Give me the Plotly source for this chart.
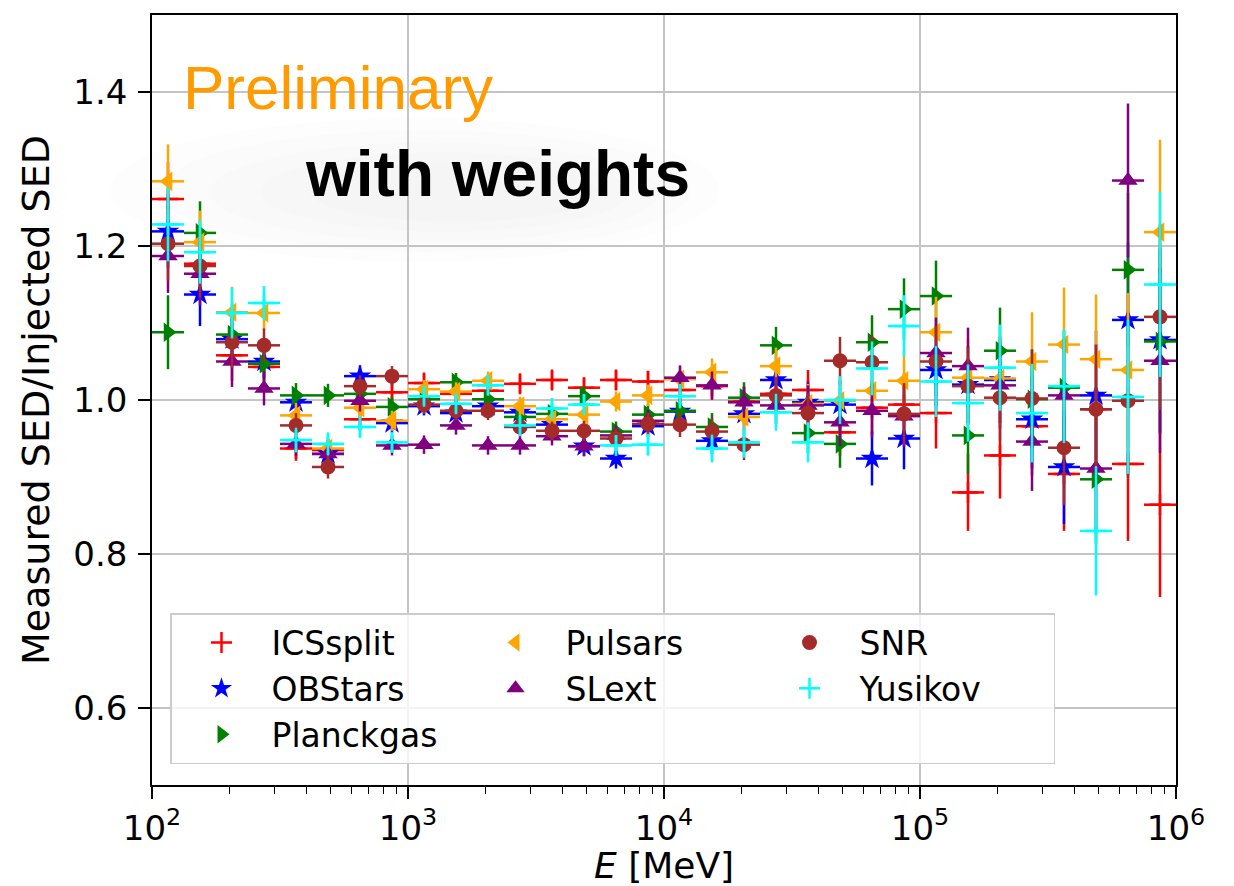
import numpy as np
import plotly.graph_objects as go

# Energy binning: 8 logarithmic bins per decade from 100 MeV to 1 TeV
LOG_E_MIN = 2.0
BINS_PER_DECADE = 8
N_BINS = 32
edges = 10 ** (LOG_E_MIN + np.arange(N_BINS + 1) / BINS_PER_DECADE)
e_lo, e_hi = edges[:-1], edges[1:]
e_c = np.sqrt(e_lo * e_hi)

# Measured / injected SED ratio per template
ICSsplit = [1.261, 1.177, 1.058, 1.043, 0.937, 0.935, 0.975, 1.010, 1.022, 1.008,
            1.012, 1.021, 1.026, 1.016, 1.026, 1.024, 1.013, 1.018, 0.998, 1.008,
            1.013, 0.958, 0.990, 0.994, 0.983, 0.880, 0.928, 0.966, 0.904, 0.988,
            0.917, 0.864]
OBStars = [1.219, 1.137, 1.079, 1.050, 0.997, 0.930, 1.031, 0.970, 0.992, 0.983,
           0.992, 0.984, 0.968, 0.940, 0.924, 0.966, 0.985, 0.947, 0.982, 1.026,
           0.997, 0.994, 0.924, 0.950, 1.039, 1.020, 1.026, 0.975, 0.913, 1.006,
           1.104, 1.078]
Planckgas = [1.088, 1.217, 1.085, 1.047, 1.006, 1.006, 1.008, 0.991, 1.001, 1.023,
             1.001, 0.978, 0.982, 1.005, 0.959, 0.981, 0.986, 0.965, 1.003, 1.071,
             0.957, 0.943, 1.075, 1.118, 1.135, 0.954, 1.064, 1.001, 1.016, 0.897,
             1.169, 1.076]
Pulsars = [1.284, 1.205, 1.114, 1.113, 0.980, 0.937, 0.990, 0.973, 1.014, 1.011,
           1.025, 0.992, 0.975, 0.981, 0.998, 1.006, 1.027, 1.036, 0.978, 1.044,
           0.995, 0.999, 1.012, 1.025, 1.088, 1.029, 1.028, 1.050, 1.072, 1.053,
           1.039, 1.218]
SLext = [1.187, 1.164, 1.050, 1.015, 0.943, 0.930, 0.999, 0.941, 0.942, 0.967,
         0.941, 0.941, 0.953, 0.940, 0.954, 0.973, 1.029, 1.019, 0.997, 0.993,
         0.993, 0.971, 0.986, 0.979, 1.061, 1.044, 1.019, 0.946, 1.006, 0.911,
         1.285, 1.051]
SNR = [1.203, 1.174, 1.075, 1.071, 0.967, 0.913, 1.018, 1.031, 0.994, 0.986,
       0.986, 0.965, 0.960, 0.960, 0.950, 0.969, 0.968, 0.959, 0.942, 1.006,
       0.983, 1.051, 1.049, 0.982, 1.050, 1.018, 1.003, 1.002, 0.938, 0.988,
       0.999, 1.108]
Yusikov = [1.228, 1.192, 1.113, 1.126, 0.948, 0.943, 0.965, 0.945, 1.005, 0.995,
           1.019, 0.967, 0.989, 0.994, 0.941, 0.942, 1.005, 0.937, 0.945, 0.984,
           0.945, 1.000, 1.041, 1.096, 1.024, 0.996, 1.042, 0.983, 1.018, 0.830,
           1.004, 1.150]

# 1-sigma uncertainty on the ratio in each energy bin
ratio_err = [0.048, 0.041, 0.033, 0.022, 0.016, 0.015, 0.014, 0.013, 0.012, 0.012,
             0.012, 0.012, 0.012, 0.013, 0.013, 0.014, 0.016, 0.018, 0.020, 0.024,
             0.026, 0.031, 0.035, 0.040, 0.046, 0.050, 0.056, 0.064, 0.074, 0.084,
             0.100, 0.120]

series = [
    # name, values, colour, symbol, size, legend rank
    ("ICSsplit", ICSsplit, "#ff0000", "cross-thin", 15, 1),
    ("OBStars", OBStars, "#0000ff", "star", 17, 4),
    ("Planckgas", Planckgas, "#008000", "triangle-right", 17, 7),
    ("Pulsars", Pulsars, "#ffa500", "triangle-left", 17, 2),
    ("SLext", SLext, "#800080", "triangle-up", 17, 5),
    ("SNR", SNR, "#a52a2a", "circle", 15, 3),
    ("Yusikov", Yusikov, "#00ffff", "cross-thin", 15, 6),
]

fig = go.Figure()
for name, vals, col, sym, size, rank in series:
    thin = sym == "cross-thin"
    fig.add_trace(go.Scatter(
        x=e_c, y=vals, name=name, mode="markers", legendrank=rank,
        marker=dict(symbol=sym, size=size, color=col,
                    line=dict(color=col, width=2.5 if thin else 0)),
        error_x=dict(type="data", symmetric=False, array=e_hi - e_c,
                     arrayminus=e_c - e_lo, color=col, thickness=2.5, width=0),
        error_y=dict(type="data", array=ratio_err, color=col, thickness=2.5, width=0),
    ))

# soft grey haze behind the "with weights" label
haze = [(110, 720, 118, 262), (160, 690, 130, 252), (210, 660, 142, 242),
        (260, 630, 152, 232), (310, 600, 162, 222)]
W, H = 1234, 886
for x0, x1, y0, y1 in haze:
    fig.add_shape(type="circle", xref="paper", yref="paper", layer="below",
                  x0=(x0 - 152) / 1024, x1=(x1 - 152) / 1024,
                  y0=(785 - y1) / 770, y1=(785 - y0) / 770,
                  fillcolor="rgba(0,0,0,0.009)", line=dict(width=0))

fig.add_annotation(text="Preliminary", xref="paper", yref="paper",
                   x=(181 - 152) / 1024, y=(785 - 87) / 770,
                   xanchor="left", yanchor="middle", showarrow=False,
                   font=dict(family="Liberation Sans", size=62, color="#ff9a00"))
fig.add_annotation(text="<b>with weights</b>", xref="paper", yref="paper",
                   x=(303 - 152) / 1024, y=(785 - 174) / 770,
                   xanchor="left", yanchor="middle", showarrow=False,
                   font=dict(family="Liberation Sans", size=64, color="black"))

tick_font = dict(family="DejaVu Sans", size=34, color="black")
fig.update_xaxes(
    type="log", range=[2, 6],
    tickvals=[1e2, 1e3, 1e4, 1e5, 1e6],
    ticktext=["10<sup>2</sup>", "10<sup>3</sup>", "10<sup>4</sup>",
              "10<sup>5</sup>", "10<sup>6</sup>"],
    ticks="outside", ticklen=12, tickwidth=1.5, tickcolor="black",
    minor=dict(ticks="outside", ticklen=7, tickwidth=1.2, tickcolor="black",
               dtick="D1", showgrid=False),
    showline=True, mirror=True, linecolor="black", linewidth=1.5,
    showgrid=True, gridcolor="#c4c4c4", gridwidth=1.5, zeroline=False,
    tickfont=tick_font,
    title=dict(text="<i>E</i> [MeV]", font=dict(family="DejaVu Sans", size=36,
                                                color="black"), standoff=6),
)
fig.update_yaxes(
    range=[0.5, 1.5], tickvals=[0.6, 0.8, 1.0, 1.2, 1.4], tickformat=".1f",
    ticks="outside", ticklen=12, tickwidth=1.5, tickcolor="black",
    ticklabelstandoff=4,
    showline=True, mirror=True, linecolor="black", linewidth=1.5,
    showgrid=True, gridcolor="#c4c4c4", gridwidth=1.5, zeroline=False,
    tickfont=tick_font,
    title=dict(text="Measured SED/Injected SED",
               font=dict(family="DejaVu Sans", size=38, color="black"), standoff=12),
)

fig.update_layout(
    width=W, height=H,
    margin=dict(l=152, r=58, t=15, b=101, autoexpand=False),
    paper_bgcolor="white", plot_bgcolor="rgba(0,0,0,0)",
    showlegend=True,
    legend=dict(orientation="h", x=(170 - 152) / 1024, y=(785 - 613) / 770,
                xanchor="left", yanchor="top", entrywidth=189, itemwidth=90,
                bgcolor="rgba(255,255,255,0.8)", bordercolor="#cccccc",
                borderwidth=1.5,
                font=dict(family="DejaVu Sans", size=33, color="black")),
)

fig.write_html("out.html")
